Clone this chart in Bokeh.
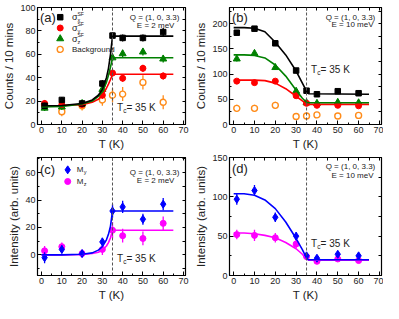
from bokeh.plotting import figure
from bokeh.layouts import gridplot
from bokeh.models import Range1d, FixedTicker, LinearAxis, Span, Label, ColumnDataSource
from bokeh.embed import file_html
from bokeh.resources import INLINE

FONT = "Liberation Sans"

# ---------------- data ----------------
T = [1.5, 10, 20, 30, 35, 40, 50, 60]

# panel (a): Q=(1,0,3.3), E=2 meV
a_sx = [16, 21, 18, 35, 76, 74, 74, 79]
a_sx_err = [2.5, 2.5, 2.5, 3, 3, 3, 3, 3.5]
a_sy = [18, 17, 17, 25, 44, 39.5, 48, 41.5]
a_sy_err = [2.5, 2.5, 2.5, 3, 3, 3, 3, 3]
a_sz = [14, 15, 18, 30, 57, 60.5, 62, 56]
a_sz_err = [2.5, 2.5, 2.5, 3, 3, 3, 3, 3]
a_bg = [17, 11, 16, 21, 25, 26, 36, 19]
a_bg_err = [4, 4, 4, 5, 6, 6, 6, 6]

fitT_a = [0, 10, 20, 25, 28, 30, 32, 33, 34, 35, 65]
a_fit_sx = [16, 16.3, 18, 21, 25, 30, 40, 48, 60, 75.5, 75.5]
a_fit_sy = [16, 16.2, 17, 19, 21.5, 25, 31, 34.5, 38.5, 43, 43]
a_fit_sz = [15, 15.4, 17.5, 20, 24, 28, 36, 42, 49, 57, 57]

# panel (b): Q=(1,0,3.3), E=10 meV
b_sx = [182, 190, 161, 107, 67, 60, 66, 62]
b_sx_err = [5, 5, 5, 4, 4, 4, 4, 4]
b_sy = [86, 83, 86, 57, 42, 38, 38, 37]
b_sy_err = [4, 4, 4, 4, 4, 4, 4, 4]
b_sz = [130, 141, 113, 66, 43, 42, 44, 43]
b_sz_err = [5, 5, 5, 4, 4, 4, 4, 4]
b_bg = [32, 32, 38, 16, 17, 19, 17, 18]
b_bg_err = [7, 7, 7, 5, 5, 5, 5, 5]

fitT_b = [0, 5, 10, 15, 20, 25, 30, 33, 35, 36, 65]
b_fit_sx = [192, 192, 191, 184, 163, 138, 106, 82, 66, 61, 60]
b_fit_sy = [88, 88, 88, 87, 82, 71, 56, 47, 41, 40, 40]
b_fit_sz = [138, 138, 137, 132, 118, 96, 68, 52, 44, 43, 43]

# panel (c): E=2 meV, My / Mz
c_my = [-2, 4, 1, 9.5, 32, 35, 26, 37]
c_my_err = [4, 3, 2.5, 3, 5, 4.5, 4, 4.5]
c_mz = [3, 6, 1, 4, 18, 14, 12, 23]
c_mz_err = [3.5, 3, 3, 4, 6, 5, 5, 5]

fitT_c = [0, 10, 20, 25, 28, 30, 32, 33, 34, 35, 65]
c_fit_my = [0, 0, 0.5, 1.5, 3.5, 6, 11, 15, 21, 32, 32]
c_fit_mz = [0, 0, 0.3, 1, 2, 3.5, 6.5, 9, 12.5, 18, 18]

# panel (d): E=10 meV, My / Mz
d_my = [97, 108, 74, 50, 25, 22, 27, 25]
d_my_err = [7, 7, 6, 5, 4, 4, 4, 4]
d_mz = [52, 51, 48, 40, 24, 18, 21, 19]
d_mz_err = [6, 7, 6, 5, 4, 3, 3, 3]

fitT_d = [0, 5, 10, 15, 20, 25, 30, 33, 35, 36, 65]
d_fit_my = [104, 104, 102, 96, 85, 68, 47, 33, 22, 20, 20]
d_fit_mz = [54, 54, 53, 51, 48, 42, 34, 27, 21, 19.5, 19.5]

x_ticks = [0, 10, 20, 30, 40, 50, 60, 70]
x_minor = [5, 15, 25, 35, 45, 55, 65]
Tc = 35

BLACK = "#000000"
RED = "#ff0000"
GREEN = "#008000"
ORANGE = "#ff8c1a"
BLUE = "#0000ff"
MAGENTA = "#ff00ff"
TXT = "#222222"


def make_fig(width, height, yrange, yticks, yminor, ylabel, mbl, mbr, mbt, mbb):
    p = figure(width=width, height=height, x_range=Range1d(-2, 71),
               y_range=Range1d(*yrange), output_backend="svg",
               toolbar_location=None, min_border_left=mbl, min_border_right=mbr,
               min_border_top=mbt, min_border_bottom=mbb)
    p.grid.visible = False
    p.outline_line_color = "black"
    p.outline_line_width = 1.2
    p.background_fill_color = "white"
    p.border_fill_color = "white"
    p.xaxis.ticker = FixedTicker(ticks=x_ticks, minor_ticks=x_minor)
    p.yaxis.ticker = FixedTicker(ticks=yticks, minor_ticks=yminor)
    p.xaxis.axis_label = "T (K)"
    p.yaxis.axis_label = ylabel
    for ax in [p.xaxis[0], p.yaxis[0]]:
        ax.axis_label_text_font = FONT
        ax.axis_label_text_font_size = "11.5px"
        ax.axis_label_text_font_style = "normal"
        ax.axis_label_text_color = TXT
        ax.axis_label_standoff = 2
        ax.major_label_text_font = FONT
        ax.major_label_text_font_size = "9px"
        ax.major_label_text_color = TXT
        ax.major_label_standoff = 2
        ax.major_tick_in = 4
        ax.major_tick_out = 0
        ax.minor_tick_in = 2
        ax.minor_tick_out = 0
        ax.axis_line_color = "black"
        ax.major_tick_line_color = "black"
        ax.minor_tick_line_color = "black"
    # mirror ticks on right and top: only "minor" ticks, so no labels are drawn
    for loc, tick in [("right", FixedTicker(ticks=[], minor_ticks=sorted(yticks + yminor))),
                      ("above", FixedTicker(ticks=[], minor_ticks=sorted(x_ticks + x_minor)))]:
        ax = LinearAxis(ticker=tick)
        ax.major_tick_in = 0
        ax.major_tick_out = 0
        ax.minor_tick_in = 3
        ax.minor_tick_out = 0
        ax.major_label_standoff = 0
        p.add_layout(ax, loc)
    p.add_layout(Span(location=Tc, dimension="height", line_color="#555555",
                      line_dash="3 2", line_width=1))
    return p


def lab(p, x, y, text, size, align="left", baseline="middle", xo=0, yo=0, color=TXT):
    p.add_layout(Label(x=x, y=y, text=text, text_font=FONT, text_font_size=f"{size}px",
                       text_align=align, text_baseline=baseline, x_offset=xo, y_offset=yo,
                       text_color=color))


def series(p, y, err, color, marker, size, fill=True):
    src = ColumnDataSource(dict(x=T, y=y, lo=[v - e for v, e in zip(y, err)],
                                hi=[v + e for v, e in zip(y, err)]))
    p.segment(x0="x", y0="lo", x1="x", y1="hi", source=src, line_color=color, line_width=1.3)
    if fill:
        p.scatter("x", "y", source=src, marker=marker, size=size, fill_color=color,
                  line_color=color)
    else:
        p.scatter("x", "y", source=src, marker=marker, size=size, fill_color="white",
                  line_color=color, line_width=1.4)


def fit(p, xs, ys, color):
    p.line(xs, ys, line_color=color, line_width=1.6)


def tc_label(p, x, y):
    lab(p, x, y, "T", 10)
    lab(p, x, y, "c", 6.5, xo=6.2, yo=-3)
    lab(p, x, y, " = 35 K", 10, xo=9.5)


def qe_label(p, yq, ye, e_text):
    lab(p, 68, yq, "Q = (1, 0, 3.3)", 8, align="right")
    lab(p, 47, ye, e_text, 8)


# ---------------- panel (a) ----------------
pa = make_fig(192, 152, (0, 100), [0, 20, 40, 60, 80, 100], [10, 30, 50, 70, 90],
              "Counts / 10 mins", 32, 7, 7, 28)
series(pa, a_bg, a_bg_err, ORANGE, "circle", 6, fill=False)
series(pa, a_sz, a_sz_err, GREEN, "triangle", 7)
series(pa, a_sy, a_sy_err, RED, "circle", 6)
series(pa, a_sx, a_sx_err, BLACK, "square", 5.5)
fit(pa, fitT_a, a_fit_sy, RED)
fit(pa, fitT_a, a_fit_sz, GREEN)
fit(pa, fitT_a, a_fit_sx, BLACK)
lab(pa, -0.8, 91.7, "(a)", 13)
qe_label(pa, 91.7, 84.5, "E = 2 meV")
tc_label(pa, 37.2, 14.2)

legend_a_x = 9.2
legend_a_y = [91.7, 82.5, 73.3, 64.2]
legend_a_sub = ["x", "y", "z"]
pa.scatter([legend_a_x], [legend_a_y[0]], marker="square", size=5.5, color=BLACK)
pa.scatter([legend_a_x], [legend_a_y[1]], marker="circle", size=6, color=RED)
pa.scatter([legend_a_x], [legend_a_y[2]], marker="triangle", size=7, color=GREEN)
pa.scatter([legend_a_x], [legend_a_y[3]], marker="circle", size=6, fill_color="white",
           line_color=ORANGE, line_width=1.4)
for yy, sub in zip(legend_a_y[:3], legend_a_sub):
    lab(pa, 15, yy, "σ", 9)
    lab(pa, 15, yy, sub, 5.5, xo=5.5, yo=-3)
    lab(pa, 15, yy, "SF", 5, xo=5.5, yo=3.5)
lab(pa, 15, legend_a_y[3], "Background", 8)

# ---------------- panel (b) ----------------
pb = make_fig(191, 152, (0, 232), [0, 50, 100, 150, 200], [25, 75, 125, 175, 225],
              "Counts / 10 mins", 32, 2, 7, 28)
series(pb, b_bg, b_bg_err, ORANGE, "circle", 6, fill=False)
series(pb, b_sz, b_sz_err, GREEN, "triangle", 7)
series(pb, b_sy, b_sy_err, RED, "circle", 6)
series(pb, b_sx, b_sx_err, BLACK, "square", 5.5)
fit(pb, fitT_b, b_fit_sy, RED)
fit(pb, fitT_b, b_fit_sz, GREEN)
fit(pb, fitT_b, b_fit_sx, BLACK)
lab(pb, -0.8, 213, "(b)", 13)
qe_label(pb, 213, 197.5, "E = 10 meV")
tc_label(pb, 37.2, 110)

# ---------------- panel (c) ----------------
pc = make_fig(192, 151, (-15, 71), [0, 20, 40, 60], [-10, 10, 30, 50, 70],
              "Intensity (arb. units)", 32, 7, 5, 28)
series(pc, c_mz, c_mz_err, MAGENTA, "circle", 6)
series(pc, c_my, c_my_err, BLUE, "diamond", 8)
fit(pc, fitT_c, c_fit_mz, MAGENTA)
fit(pc, fitT_c, c_fit_my, BLUE)
lab(pc, -0.8, 62, "(c)", 13)
qe_label(pc, 60, 54, "E = 2 meV")
tc_label(pc, 37.2, -2.8)

legend_c_x = 12.9
legend_c_y = [62, 53.5]
legend_c_sub = ["y", "z"]
pc.scatter([legend_c_x], [legend_c_y[0]], marker="diamond", size=8, color=BLUE)
pc.scatter([legend_c_x], [legend_c_y[1]], marker="circle", size=6, color=MAGENTA)
for yy, sub in zip(legend_c_y, legend_c_sub):
    lab(pc, 17.4, yy, "M", 8)
    lab(pc, 17.4, yy, sub, 5.5, xo=7, yo=-2.5)

# ---------------- panel (d) ----------------
pd = make_fig(191, 151, (0, 150), [0, 50, 100, 150], [25, 75, 125],
              "Intensity (arb. units)", 32, 2, 5, 28)
series(pd, d_mz, d_mz_err, MAGENTA, "circle", 6)
series(pd, d_my, d_my_err, BLUE, "diamond", 8)
fit(pd, fitT_d, d_fit_mz, MAGENTA)
fit(pd, fitT_d, d_fit_my, BLUE)
lab(pd, -0.8, 136.6, "(d)", 13)
qe_label(pd, 138.7, 127.5, "E = 10 meV")
tc_label(pd, 37.2, 41)

grid = gridplot([[pa, pb], [pc, pd]], toolbar_location=None)

open("out.html", "w").write(file_html(grid, INLINE))
